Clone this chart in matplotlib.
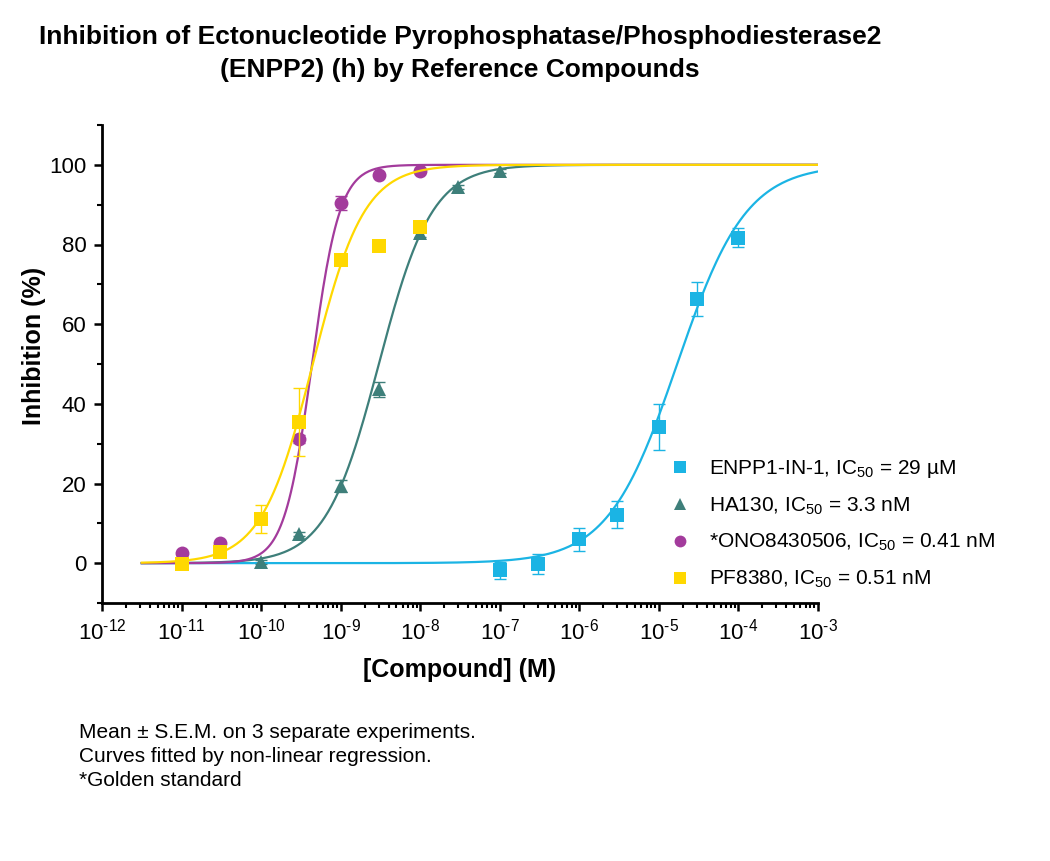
import numpy as np
import matplotlib
matplotlib.use("Agg")
import matplotlib.pyplot as plt
from matplotlib.ticker import LogLocator, FuncFormatter, MultipleLocator, NullFormatter

plt.rcParams['font.family'] = ['Liberation Sans', 'DejaVu Sans']
plt.rcParams['mathtext.fontset'] = 'custom'
plt.rcParams['mathtext.rm'] = 'Liberation Sans'
plt.rcParams['mathtext.it'] = 'Liberation Sans:italic'
plt.rcParams['mathtext.bf'] = 'Liberation Sans:bold'

# --- data ---
enpp1_conc = [1e-7, 3e-7, 1e-6, 3e-6, 1e-5, 3e-5, 1e-4]
enpp1_mean = [-1.8, -0.2, 6.0, 12.2, 34.2, 66.4, 81.7]
enpp1_sem = [2.2, 2.5, 2.9, 3.3, 5.7, 4.3, 2.4]

ha130_conc = [1e-10, 3e-10, 1e-9, 3e-9, 1e-8, 3e-8, 1e-7]
ha130_mean = [0.3, 7.2, 19.3, 43.6, 83.0, 94.5, 98.5]
ha130_sem = [0.5, 0.5, 1.5, 2.0, 1.0, 0.5, 0.5]

ono_conc = [1e-11, 3e-11, 3e-10, 1e-9, 3e-9, 1e-8]
ono_mean = [2.6, 5.1, 31.1, 90.5, 97.4, 98.5]
ono_sem = [0.5, 0.5, 1.0, 1.8, 0.5, 0.5]

pf_conc = [1e-11, 3e-11, 1e-10, 3e-10, 1e-9, 3e-9, 1e-8]
pf_mean = [-0.3, 2.7, 11.0, 35.4, 76.1, 79.6, 84.4]
pf_sem = [0.5, 1.0, 3.5, 8.6, 0.8, 0.8, 1.0]

# fitted 4PL parameters (bottom 0, top 100): log IC50 of drawn curve, Hill slope
labels = ["ENPP1-IN-1, IC$_{50}$ = 29 \u00b5M", "HA130, IC$_{50}$ = 3.3 nM",
          "*ONO8430506, IC$_{50}$ = 0.41 nM", "PF8380, IC$_{50}$ = 0.51 nM"]
fit_logic50 = [-4.77, -8.52, -9.36, -9.35]
fit_hill = [1.0, 1.3, 2.5, 1.35]
colors = ["#1BB4E4", "#3E7F7A", "#A33B9C", "#FFD800"]
markers = ["s", "^", "o", "s"]

series = [
    (enpp1_conc, enpp1_mean, enpp1_sem),
    (ha130_conc, ha130_mean, ha130_sem),
    (ono_conc, ono_mean, ono_sem),
    (pf_conc, pf_mean, pf_sem),
]


def hill(logx, logic50, h):
    return 100.0 / (1.0 + 10 ** (h * (logic50 - logx)))


def decade_label(v, pos):
    n = int(round(np.log10(v)))
    return "10$^{\\text{%d}}$" % n


fig = plt.figure(figsize=(10.5, 8.61), dpi=100)
ax = fig.add_axes([102 / 1050, 1 - 603 / 861, (818 - 102) / 1050, (603 - 125) / 861])

logx_fit = np.linspace(-11.5, -3, 400)
handles = []
for i, (conc, mean, sem) in enumerate(series):
    z = 3 + i
    ax.plot(10 ** logx_fit, hill(logx_fit, fit_logic50[i], fit_hill[i]),
            color=colors[i], lw=1.6, zorder=z)
    ax.errorbar(conc, mean, yerr=sem, fmt="none", ecolor=colors[i],
                elinewidth=1.0, capsize=4.5, capthick=1.0, zorder=z)
    ms = 10 if markers[i] != "^" else 9.5
    h, = ax.plot(conc, mean, linestyle="none", marker=markers[i], color=colors[i],
                 markersize=ms, markeredgewidth=0, zorder=z + 0.5, label=labels[i])
    handles.append(h)

ax.set_xscale("log")
ax.set_xlim(1e-12, 1e-3)
ax.set_ylim(-10, 110)

ax.xaxis.set_major_locator(LogLocator(base=10, numticks=20))
ax.xaxis.set_major_formatter(FuncFormatter(decade_label))
ax.xaxis.set_minor_locator(LogLocator(base=10, subs=np.arange(2, 10), numticks=20))
ax.xaxis.set_minor_formatter(NullFormatter())
ax.yaxis.set_minor_locator(MultipleLocator(10))
ax.set_yticks([0, 20, 40, 60, 80, 100])

for s in ["top", "right"]:
    ax.spines[s].set_visible(False)
for s in ["left", "bottom"]:
    ax.spines[s].set_linewidth(2.0)

ax.tick_params(axis="both", which="major", direction="out", length=6, width=1.8,
               color="black", pad=5)
ax.tick_params(axis="y", which="major", labelsize=16)
ax.tick_params(axis="x", which="major", labelsize=16, pad=5)
ax.tick_params(axis="both", which="minor", direction="out", length=3.5, width=1.5)

ax.set_xlabel("[Compound] (M)", fontsize=18, fontweight="bold", labelpad=10)
ax.set_ylabel("Inhibition (%)", fontsize=18, fontweight="bold")
ax.yaxis.set_label_coords((46 - 102) / 716, (603 - 346) / 478)

leg = fig.legend(handles=handles, loc="upper left", bbox_to_anchor=(670 / 1050, 1 - 458 / 861),
                 frameon=False, fontsize=15, handletextpad=0.85, labelspacing=0.74,
                 borderaxespad=0, borderpad=0, handlelength=1.0, markerscale=0.85)

fig.text(0.438, 1 - 25 / 861, "Inhibition of Ectonucleotide Pyrophosphatase/Phosphodiesterase2\n"
         "(ENPP2) (h) by Reference Compounds", ha="center", va="top",
         fontsize=19, fontweight="bold", linespacing=1.45)

fig.text(79 / 1050, 1 - 723 / 861, "Mean \u00b1 S.E.M. on 3 separate experiments.\n"
         "Curves fitted by non-linear regression.\n*Golden standard",
         ha="left", va="top", fontsize=15, linespacing=1.33)

fig.savefig("out.png", dpi=100)
